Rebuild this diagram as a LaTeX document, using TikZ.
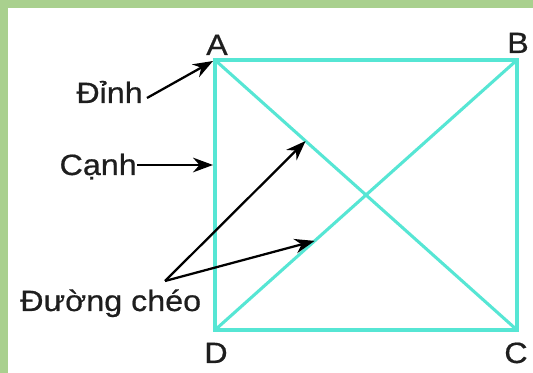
\documentclass[tikz,border=0pt]{standalone}
\usepackage{fontspec}
\setmainfont{Liberation Sans}
\newfontfamily\lblfont[FakeStretch=1.1,FakeBold=0.6]{Liberation Sans}
\usetikzlibrary{arrows.meta,calc}
\definecolor{sqcyan}{RGB}{86,230,212}
\definecolor{framegreen}{RGB}{169,208,142}
\definecolor{inkgray}{RGB}{30,30,30}

\begin{document}
\begin{tikzpicture}[x=0.75pt,y=-0.75pt,
    lbl/.style={font=\lblfont\fontsize{22}{26}\selectfont, text=inkgray, inner sep=0pt},
    side/.style={draw=sqcyan, line width=2.3pt, line cap=round},
    pointer/.style={draw=black, line width=1.7pt, -{Stealth[length=15pt,width=11pt]}}]
    \useasboundingbox (0,0) rectangle (533,373);

    % frame: green band on top and left
    \fill[framegreen] (0,0) rectangle (533,373);
    \fill[white] (8,8) rectangle (533,373);

    % square corners
    \coordinate (A) at (215,60);
    \coordinate (B) at (517,60);
    \coordinate (C) at (517,330);
    \coordinate (D) at (215,330);

    % sides and diagonals
    \draw[side] (A) -- (B) -- (C) -- (D) -- cycle;
    \draw[side] (A) -- (C);
    \draw[side] (D) -- (B);

    % corner letters
    \node[lbl, anchor=base] (labA) at (217,55) {A};
    \node[lbl, anchor=base] (labB) at (518,53) {B};
    \node[lbl, anchor=base] (labC) at (516,363) {C};
    \node[lbl, anchor=base] (labD) at (216,363) {D};

    % labels
    \node[lbl, anchor=base east] (dinh) at (143,103) {Đỉnh};
    \node[lbl, anchor=base east] (canh) at (137,175) {Cạnh};
    \node[lbl, anchor=base west] (cheo) at (20,311) {Đường chéo};

    \coordinate (dinhTail) at ($(dinh.base east)+(4,-5)$);
    \coordinate (canhTail) at ($(canh.base east)+(0,-10)$);
    \coordinate (cheoTail) at (165,281);
    \coordinate (onAC) at ($(A)!0.3!(C)$);
    \coordinate (onDB) at ($(D)!0.33!(B)$);

    % pointers
    \draw[pointer] (dinhTail) -- ($(A)+(-2,1)$);
    \draw[pointer] (canhTail) -- ($(canhTail -| A)+(-2,0)$);
    \draw[pointer] (cheoTail) -- (onAC);
    \draw[pointer] (cheoTail) -- (onDB);
\end{tikzpicture}
\end{document}
